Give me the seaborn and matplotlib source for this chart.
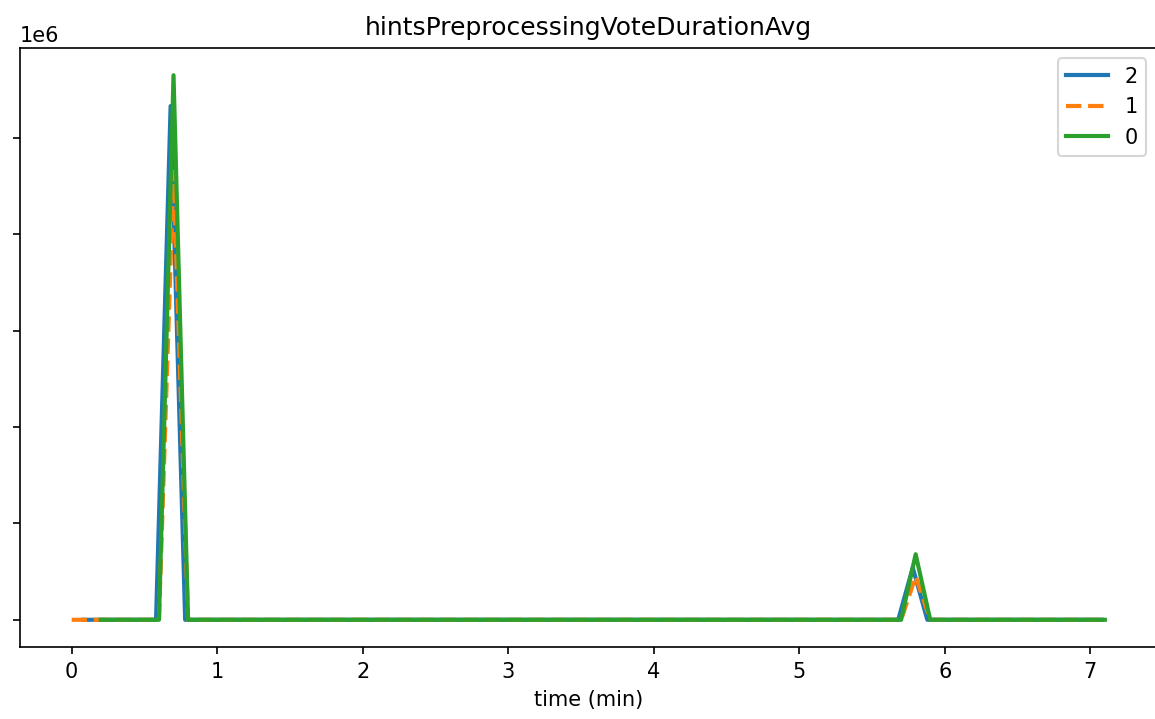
import pandas as pd
import matplotlib
matplotlib.use('Agg')
import matplotlib.pyplot as plt
import seaborn as sns

# breakpoints of each node's series (time in min, value)
t_node2 = [0.08, 0.58, 0.68, 0.78, 5.68, 5.78, 5.88, 7.08]
v_node2 = [0, 0, 5.33e6, 0, 0, 0.54e6, 0, 0]

t_node1 = [0.0, 0.6, 0.7, 0.8, 5.7, 5.8, 5.9, 7.1]
v_node1 = [0, 0, 4.65e6, 0, 0, 0.45e6, 0, 0]

t_node0 = [0.2, 0.6, 0.7, 0.8, 5.7, 5.8, 5.9, 7.1]
v_node0 = [0, 0, 5.65e6, 0, 0, 0.68e6, 0, 0]

nodes = ['2', '1', '0']

df = pd.concat([
    pd.DataFrame({'time': t_node2, 'value': v_node2, 'node': '2'}),
    pd.DataFrame({'time': t_node1, 'value': v_node1, 'node': '1'}),
    pd.DataFrame({'time': t_node0, 'value': v_node0, 'node': '0'}),
], ignore_index=True)

fig = plt.figure(figsize=(1155 / 150, 719 / 150), dpi=150)
# axes spill past the figure edges like the cropped original
ax = fig.add_axes([20 / 1155, 72 / 719, 1136.5 / 1155, 599 / 719])

sns.lineplot(data=df, x='time', y='value', hue='node', style='node',
             hue_order=nodes, style_order=nodes,
             dashes={'2': '', '1': (3.7, 1.6), '0': ''},
             linewidth=2, sort=False, estimator=None, ax=ax)

ax.set_title('hintsPreprocessingVoteDurationAvg', fontsize=12)
ax.set_xlabel('time (min)')
ax.set_ylabel('')
# y tick labels sit just outside the cropped left edge
ax.tick_params(axis='y', pad=6)
sns.move_legend(ax, 'upper right', title=None)

fig.savefig('out.png', dpi=150)
